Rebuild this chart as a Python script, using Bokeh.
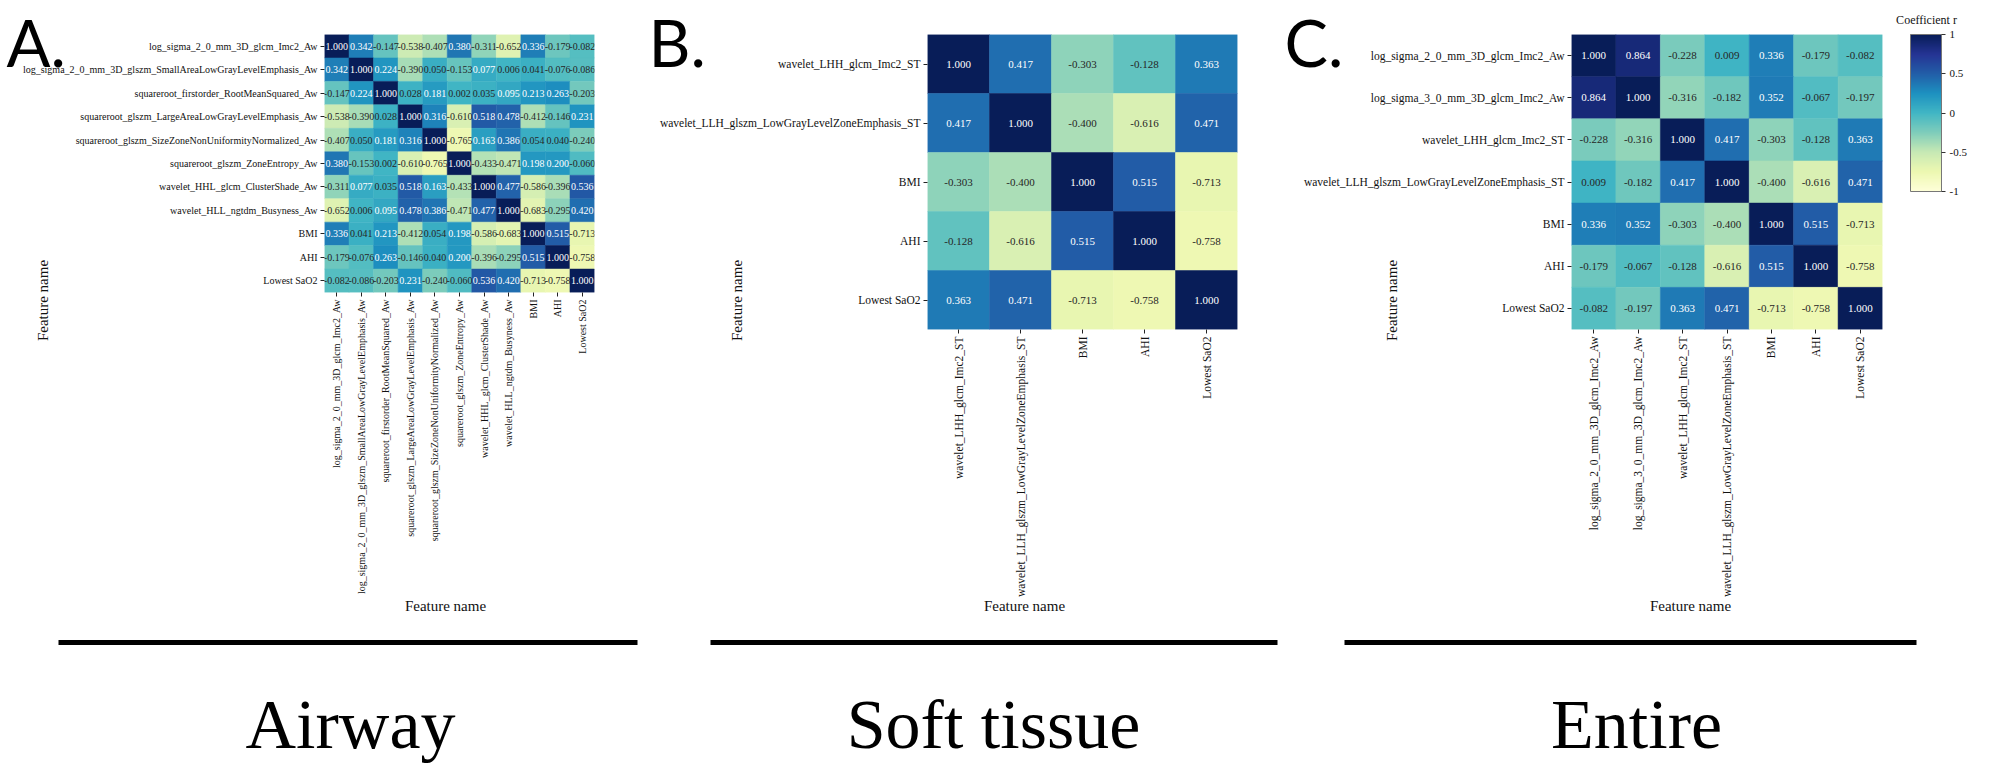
import math
import numpy as np
from bokeh.plotting import figure
from bokeh.models import (ColumnDataSource, FactorRange, Range1d, LinearColorMapper,
                          ColorBar, FixedTicker, GridBox)
from bokeh.layouts import row
from bokeh.transform import transform
from bokeh.core.properties import value
from bokeh.embed import file_html
from bokeh.resources import INLINE

# ---------------- data ----------------
airway_features = [
    "log_sigma_2_0_mm_3D_glcm_Imc2_Aw",
    "log_sigma_2_0_mm_3D_glszm_SmallAreaLowGrayLevelEmphasis_Aw",
    "squareroot_firstorder_RootMeanSquared_Aw",
    "squareroot_glszm_LargeAreaLowGrayLevelEmphasis_Aw",
    "squareroot_glszm_SizeZoneNonUniformityNormalized_Aw",
    "squareroot_glszm_ZoneEntropy_Aw",
    "wavelet_HHL_glcm_ClusterShade_Aw",
    "wavelet_HLL_ngtdm_Busyness_Aw",
    "BMI",
    "AHI",
    "Lowest SaO2",
]
airway_r = [
    [1.000, 0.342, -0.147, -0.538, -0.407, 0.380, -0.311, -0.652, 0.336, -0.179, -0.082],
    [0.342, 1.000, 0.224, -0.390, 0.050, -0.153, 0.077, 0.006, 0.041, -0.076, -0.086],
    [-0.147, 0.224, 1.000, 0.028, 0.181, 0.002, 0.035, 0.095, 0.213, 0.263, -0.203],
    [-0.538, -0.390, 0.028, 1.000, 0.316, -0.610, 0.518, 0.478, -0.412, -0.146, 0.231],
    [-0.407, 0.050, 0.181, 0.316, 1.000, -0.765, 0.163, 0.386, 0.054, 0.040, -0.240],
    [0.380, -0.153, 0.002, -0.610, -0.765, 1.000, -0.433, -0.471, 0.198, 0.200, -0.060],
    [-0.311, 0.077, 0.035, 0.518, 0.163, -0.433, 1.000, 0.477, -0.586, -0.396, 0.536],
    [-0.652, 0.006, 0.095, 0.478, 0.386, -0.471, 0.477, 1.000, -0.683, -0.295, 0.420],
    [0.336, 0.041, 0.213, -0.412, 0.054, 0.198, -0.586, -0.683, 1.000, 0.515, -0.713],
    [-0.179, -0.076, 0.263, -0.146, 0.040, 0.200, -0.396, -0.295, 0.515, 1.000, -0.758],
    [-0.082, -0.086, -0.203, 0.231, -0.240, -0.060, 0.536, 0.420, -0.713, -0.758, 1.000],
]

soft_features = [
    "wavelet_LHH_glcm_Imc2_ST",
    "wavelet_LLH_glszm_LowGrayLevelZoneEmphasis_ST",
    "BMI",
    "AHI",
    "Lowest SaO2",
]
soft_r = [
    [1.000, 0.417, -0.303, -0.128, 0.363],
    [0.417, 1.000, -0.400, -0.616, 0.471],
    [-0.303, -0.400, 1.000, 0.515, -0.713],
    [-0.128, -0.616, 0.515, 1.000, -0.758],
    [0.363, 0.471, -0.713, -0.758, 1.000],
]

entire_features = [
    "log_sigma_2_0_mm_3D_glcm_Imc2_Aw",
    "log_sigma_3_0_mm_3D_glcm_Imc2_Aw",
    "wavelet_LHH_glcm_Imc2_ST",
    "wavelet_LLH_glszm_LowGrayLevelZoneEmphasis_ST",
    "BMI",
    "AHI",
    "Lowest SaO2",
]
entire_r = [
    [1.000, 0.864, -0.228, 0.009, 0.336, -0.179, -0.082],
    [0.864, 1.000, -0.316, -0.182, 0.352, -0.067, -0.197],
    [-0.228, -0.316, 1.000, 0.417, -0.303, -0.128, 0.363],
    [0.009, -0.182, 0.417, 1.000, -0.400, -0.616, 0.471],
    [0.336, 0.352, -0.303, -0.400, 1.000, 0.515, -0.713],
    [-0.179, -0.067, -0.128, -0.616, 0.515, 1.000, -0.758],
    [-0.082, -0.197, 0.363, 0.471, -0.713, -0.758, 1.000],
]

colorbar_ticks = [-1, -0.5, 0, 0.5, 1]
colorbar_tick_labels = ["-1", "-0.5", "0", "0.5", "1"]
panel_letters = ["A.", "B.", "C."]
panel_captions = ["Airway", "Soft tissue", "Entire"]
axis_title = "Feature name"
colorbar_title = "Coefficient r"

# ---------------- colour map (YlGnBu, -1..1) ----------------
anchors = ["#ffffd9", "#edf8b1", "#c7e9b4", "#7fcdbb", "#41b6c4",
           "#1d91c0", "#225ea8", "#253494", "#081d58"]
arr = np.array([[int(h[i:i + 2], 16) / 255 for i in (1, 3, 5)] for h in anchors])
tt = np.linspace(0, 1, 256)
rgb = np.stack([np.interp(tt, np.linspace(0, 1, 9), arr[:, k]) for k in range(3)], axis=1)
palette = ["#%02x%02x%02x" % tuple(int(round(c * 255)) for c in r) for r in rgb]
mapper = LinearColorMapper(palette=palette, low=-1, high=1)


def text_color(v):
    idx = min(255, max(0, int((v + 1) / 2 * 256)))
    c = rgb[idx]
    lin = np.where(c <= 0.03928, c / 12.92, ((c + 0.055) / 1.055) ** 2.4)
    lum = float(lin.dot([0.2126, 0.7152, 0.0722]))
    return "#262626" if lum > 0.345 else "#ffffff"


SERIF = "Liberation Serif"
PAGE_W, PAGE_H = 2008, 770
TOP = 34


def heatmap(names, mat, left, frame_w, right, frame_h, cell_px, tick_px):
    xs, ys, vals, txt, cols = [], [], [], [], []
    for i, rn in enumerate(names):
        for j, cn in enumerate(names):
            v = mat[i][j]
            xs.append(cn); ys.append(rn); vals.append(v)
            txt.append(f"{v:.3f}"); cols.append(text_color(v))
    src = ColumnDataSource(dict(x=xs, y=ys, v=vals, t=txt, c=cols))
    p = figure(frame_width=frame_w, frame_height=frame_h,
               x_range=FactorRange(*names), y_range=FactorRange(*reversed(names)),
               output_backend="svg", toolbar_location=None,
               min_border_left=left, min_border_right=right, min_border_top=TOP,
               min_border_bottom=PAGE_H - TOP - frame_h)
    p.rect(x="x", y="y", width=1, height=1, source=src,
           fill_color=transform("v", mapper), line_color=transform("v", mapper), line_width=0.5)
    p.text(x="x", y="y", text="t", source=src, text_color="c", text_align="center",
           text_baseline="middle", text_font=value(SERIF), text_font_size=f"{cell_px}px")
    for ax in (p.xaxis[0], p.yaxis[0]):
        ax.axis_line_color = None
        ax.major_tick_in = 0
        ax.major_tick_out = 4
        ax.major_tick_line_color = "#222222"
        ax.major_label_text_font = SERIF
        ax.major_label_text_font_size = f"{tick_px}px"
        ax.major_label_text_color = "#111111"
        ax.major_label_standoff = 3
    p.xaxis.major_label_orientation = math.pi / 2
    p.grid.visible = False
    p.outline_line_color = None
    p.background_fill_color = None
    return p


pa = heatmap(airway_features, airway_r, left=324, frame_w=270, right=51, frame_h=258,
             cell_px=10, tick_px=10)
pb = heatmap(soft_features, soft_r, left=282, frame_w=310, right=43, frame_h=295,
             cell_px=11, tick_px=11.5)
pc = heatmap(entire_features, entire_r, left=291, frame_w=311, right=126, frame_h=295,
             cell_px=11, tick_px=11.5)
main = row(pa, pb, pc)

# ---------------- overlay for titles, captions, rules and colour bar ----------------
ov = figure(width=PAGE_W, height=PAGE_H, x_range=Range1d(0, PAGE_W), y_range=Range1d(PAGE_H, 0),
            output_backend="svg", toolbar_location=None, min_border=0,
            x_axis_location=None, y_axis_location=None,
            background_fill_color=None, border_fill_color=None, outline_line_color=None)
ov.grid.visible = False

# panel letters
ov.text(x=[6, 648, 1284], y=[41, 41, 41], text=panel_letters, text_font=value("Lato"),
        text_font_size="65px", text_align="left", text_baseline="alphabetic", text_color="#000000")
# axis titles
ov.text(x=[445, 1024, 1690], y=[605, 605, 605], text=[axis_title] * 3, text_font=value(SERIF),
        text_font_size="15px", text_align="center", text_baseline="middle", text_color="#111111")
ov.text(x=[42, 736, 1391], y=[300, 300, 300], text=[axis_title] * 3, angle=math.pi / 2,
        text_font=value(SERIF), text_font_size="15px", text_align="center",
        text_baseline="middle", text_color="#111111")
# rules and captions
ov.segment(x0=[58, 710, 1344], y0=[642, 642, 642], x1=[637, 1277, 1916], y1=[642, 642, 642],
           line_width=5, line_color="#000000")
ov.text(x=[350, 993, 1636], y=[724, 724, 724], text=panel_captions, text_font=value(SERIF),
        text_font_size="70px", text_align="center", text_baseline="alphabetic", text_color="#000000")
# colour bar
ov.text(x=[1926], y=[19], text=[colorbar_title], text_font=value(SERIF), text_font_size="12px",
        text_align="center", text_baseline="alphabetic", text_color="#111111")
cb = ColorBar(color_mapper=mapper, ticker=FixedTicker(ticks=colorbar_ticks),
              major_label_overrides={tk: lb for tk, lb in zip(colorbar_ticks, colorbar_tick_labels)},
              width=31, height=157, location=(1910, PAGE_H - 191), padding=0, margin=0,
              major_tick_in=0, major_tick_out=4, major_tick_line_color="#333333",
              major_label_text_font=SERIF, major_label_text_font_size="11px",
              major_label_text_color="#111111", label_standoff=4,
              bar_line_color="#777777", bar_line_width=1,
              background_fill_alpha=0, border_line_color=None)
ov.add_layout(cb, "center")

layout = GridBox(children=[(main, 0, 0), (ov, 0, 0)])
open("out.html", "w").write(file_html(layout, INLINE))
